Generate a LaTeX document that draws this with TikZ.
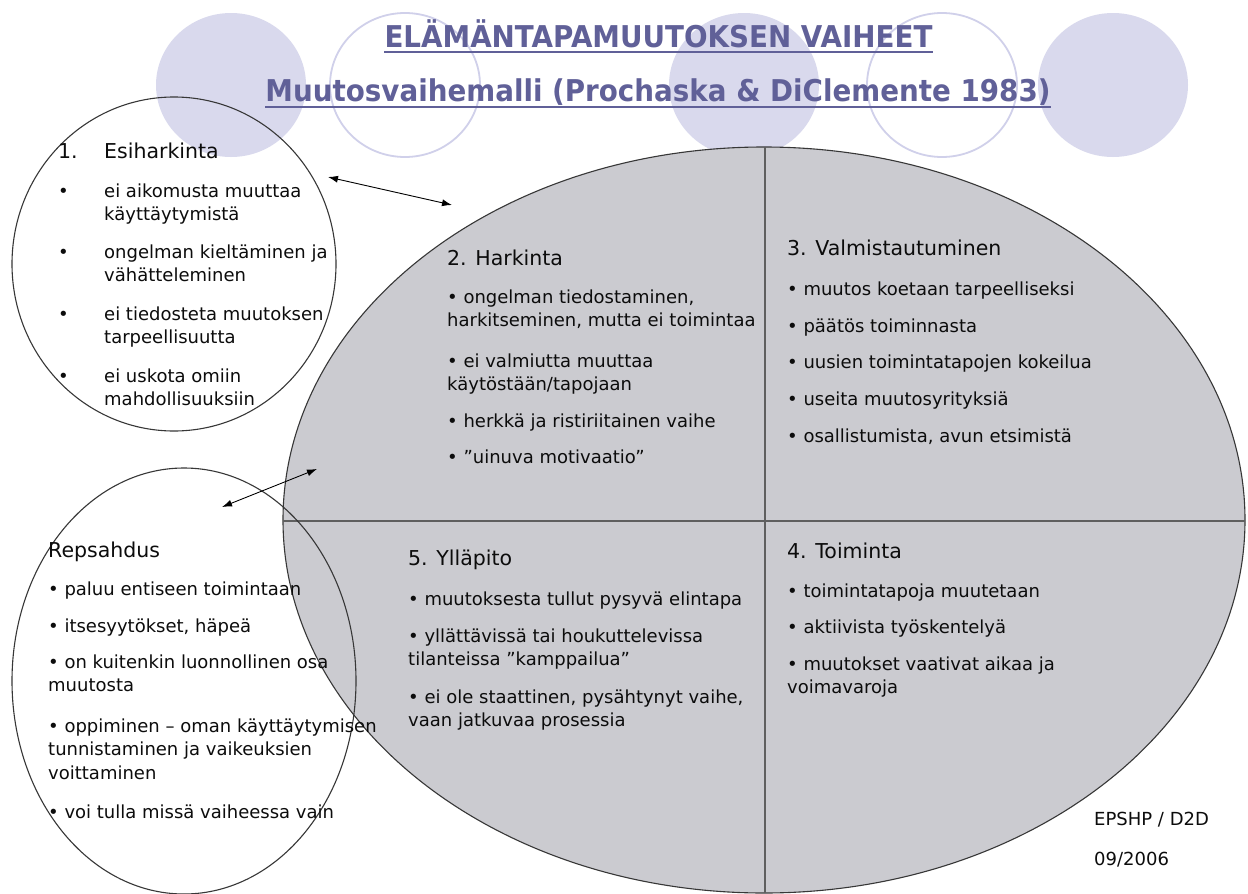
\documentclass[tikz,border=0pt]{standalone}
\usepackage{fontspec}
\usepackage{graphicx}
\setmainfont{DejaVu Sans}
\usetikzlibrary{arrows.meta}
\definecolor{grayfill}{RGB}{203,203,208}
\definecolor{lavfill}{RGB}{217,217,237}
\definecolor{lavline}{RGB}{208,208,234}
\definecolor{titlec}{RGB}{96,96,152}
\definecolor{txtc}{RGB}{12,12,12}
\definecolor{edgec}{RGB}{55,55,55}
\definecolor{divc}{RGB}{95,95,95}
\newcommand\ml[1]{\begin{tabular}[t]{@{}l@{}}#1\end{tabular}}
\newcommand\mh[1]{\begin{tabular}[t]{@{}p{46pt}@{}l@{}}#1\end{tabular}}
\newcommand\squeeze[1]{\scalebox{0.925}[1]{#1}}
\tikzset{
  itm/.style={anchor=base west, inner sep=0pt, text=txtc, font=\fontsize{18}{23.5}\selectfont},
  hd/.style={itm, font=\fontsize{20.5}{24}\selectfont},
  ttl/.style={anchor=base, inner sep=0pt, text=titlec, font=\bfseries\fontsize{30}{32}\selectfont},
  uline/.style={titlec, line width=2.2pt},
  lavdisc/.style={fill=lavfill, draw=none},
  lavring/.style={draw=lavline, line width=1.8pt, fill=white},
  oval/.style={draw=edgec, line width=1.1pt},
  divline/.style={draw=divc, line width=1.4pt},
  arr/.style={draw=black, line width=0.9pt, {Latex[length=10pt,width=7pt]}-{Latex[length=10pt,width=7pt]}},
}
\begin{document}
\begin{tikzpicture}[x=1pt,y=-1pt]
\useasboundingbox (0,0) rectangle (1248,894);
\fill[white] (0,0) rectangle (1248,894);
% background lavender circles
\path[lavdisc] (231,85) ellipse [x radius=75pt, y radius=72pt];
\path[lavring] (405,85) ellipse [x radius=75pt, y radius=72pt];
\path[lavdisc] (744,85) ellipse [x radius=75pt, y radius=72pt];
\path[lavring] (942,85) ellipse [x radius=75pt, y radius=72pt];
\path[lavdisc] (1113,85) ellipse [x radius=75pt, y radius=72pt];
% titles
\node[ttl] (t1) at (658.5,47) {\squeeze{ELÄMÄNTAPAMUUTOKSEN VAIHEET}};
\draw[uline] ([yshift=-5pt]t1.base west) -- ([yshift=-5pt]t1.base east);
\node[ttl] (t2) at (658,101) {\squeeze{Muutosvaihemalli (Prochaska \& DiClemente 1983)}};
\draw[uline] ([yshift=-6pt]t2.base west) -- ([yshift=-6pt]t2.base east);
% main ellipse
\path[oval, fill=grayfill] (764,520) ellipse [x radius=481pt, y radius=373pt];
\draw[divline] (765,147) -- (765,893);
\draw[divline] (283,521) -- (1245,521);
% side ellipses
\draw[oval] (174,264) ellipse [x radius=162pt, y radius=167pt];
\draw[oval] (184,681) ellipse [x radius=172pt, y radius=213pt];
% arrows
\coordinate (a1s) at (328,177);
\coordinate (a1e) at (452,205);
\draw[arr] (a1s) -- (a1e);
\coordinate (a2s) at (222,507);
\coordinate (a2e) at (317,469);
\draw[arr] (a2s) -- (a2e);
% 1. Esiharkinta
\node[hd] (e0) at (58,158) {\mh{1. & Esiharkinta}};
\node[itm] (e1) at (58,197) {\mh{• & ei aikomusta muuttaa\\ & käyttäytymistä}};
\node[itm] (e2) at (58,258) {\mh{• & ongelman kieltäminen ja\\ & vähätteleminen}};
\node[itm] (e3) at (58,320) {\mh{• & ei tiedosteta muutoksen\\ & tarpeellisuutta}};
\node[itm] (e4) at (58,382) {\mh{• & ei uskota omiin\\ & mahdollisuuksiin}};
% 2. Harkinta
\node[hd] (h0) at (447,265) {2. Harkinta};
\node[itm] (h1) at (447,303) {\ml{• ongelman tiedostaminen,\\harkitseminen, mutta ei toimintaa}};
\node[itm] (h2) at (447,367) {\ml{• ei valmiutta muuttaa\\käytöstään/tapojaan}};
\node[itm] (h3) at (447,427) {• herkkä ja ristiriitainen vaihe};
\node[itm] (h4) at (447,463) {• ”uinuva motivaatio”};
% 3. Valmistautuminen
\node[hd] (v0) at (787,255) {3. Valmistautuminen};
\node[itm] (v1) at (787,295) {• muutos koetaan tarpeelliseksi};
\node[itm] (v2) at (787,332) {• päätös toiminnasta};
\node[itm] (v3) at (787,368) {• uusien toimintatapojen kokeilua};
\node[itm] (v4) at (787,405) {• useita muutosyrityksiä};
\node[itm] (v5) at (787,442) {• osallistumista, avun etsimistä};
% 4. Toiminta
\node[hd] (o0) at (787,558) {4. Toiminta};
\node[itm] (o1) at (787,597) {• toimintatapoja muutetaan};
\node[itm] (o2) at (787,633) {• aktiivista työskentelyä};
\node[itm] (o3) at (787,670) {\ml{• muutokset vaativat aikaa ja\\voimavaroja}};
% 5. Ylläpito
\node[hd] (y0) at (408,565) {5. Ylläpito};
\node[itm] (y1) at (408,605) {• muutoksesta tullut pysyvä elintapa};
\node[itm] (y2) at (408,642) {\ml{• yllättävissä tai houkuttelevissa\\tilanteissa ”kamppailua”}};
\node[itm] (y3) at (408,703) {\ml{• ei ole staattinen, pysähtynyt vaihe,\\vaan jatkuvaa prosessia}};
% Repsahdus
\node[hd] (r0) at (48,557) {Repsahdus};
\node[itm] (r1) at (48,595) {• paluu entiseen toimintaan};
\node[itm] (r2) at (48,632) {• itsesyytökset, häpeä};
\node[itm] (r3) at (48,668) {\ml{• on kuitenkin luonnollinen osa\\muutosta}};
\node[itm] (r4) at (48,732) {\ml{• oppiminen – oman käyttäytymisen\\tunnistaminen ja vaikeuksien\\voittaminen}};
\node[itm] (r5) at (48,818) {• voi tulla missä vaiheessa vain};
% footer
\node[itm] (f1) at (1094,825) {EPSHP / D2D};
\node[itm] (f2) at (1094,865) {09/2006};
\end{tikzpicture}
\end{document}
